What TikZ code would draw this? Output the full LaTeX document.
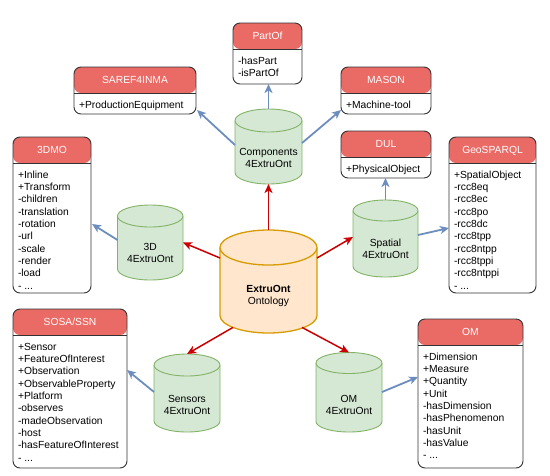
\documentclass[tikz,border=0pt]{standalone}
\usepackage{fontspec}
\setmainfont{Liberation Sans}
\usetikzlibrary{arrows.meta}
\definecolor{hdrred}{HTML}{EA6B66}
\definecolor{cylfill}{HTML}{D5E8D4}
\definecolor{cylline}{HTML}{82B366}
\definecolor{extfill}{HTML}{FFE6CC}
\definecolor{extline}{HTML}{D79B00}
\definecolor{arrred}{HTML}{CC0000}
\definecolor{arrblue}{HTML}{6C8EBF}
\definecolor{boxline}{HTML}{333333}

% #1 node name, #2 half width, #3 y radius of the caps, #4 style
\newcommand\drawcyl[4]{%
  \filldraw[#4] ([yshift=-#3]#1.north west) -- ([yshift=#3]#1.south west)
    arc[start angle=180,end angle=360,x radius=#2,y radius=#3]
    -- ([yshift=-#3]#1.north east)
    arc[start angle=0,end angle=180,x radius=#2,y radius=#3] -- cycle;
  \draw[#4] ([yshift=-#3]#1.north east)
    arc[start angle=0,end angle=-180,x radius=#2,y radius=#3];
}

\begin{document}
\begin{tikzpicture}[x=1pt,y=-1pt,
  every node/.style={font=\fontsize{10.3}{12.3}\selectfont, inner sep=0pt, outer sep=0pt},
  ontbox/.style={rectangle, rounded corners=7pt, draw=boxline, line width=0.9pt, fill=white,
    path picture={
      \fill[hdrred] (path picture bounding box.north west) rectangle ([yshift=-26pt]path picture bounding box.north east);
      \draw[boxline, line width=0.9pt] ([yshift=-26pt]path picture bounding box.north west) -- ([yshift=-26pt]path picture bounding box.north east);
    }},
  boxtitle/.style={text=white, text height=7.5pt, text depth=0pt},
  boxbody/.style={align=left, anchor=north west},
  cylnode/.style={rectangle, draw=none},
  greencyl/.style={fill=cylfill, draw=cylline, line width=0.9pt},
  orangecyl/.style={fill=extfill, draw=extline, line width=1.3pt},
  cyllabel/.style={align=center},
  redarr/.style={draw=arrred, line width=1.5pt, -{Stealth[length=9pt,width=8pt,inset=2.5pt]}},
  bluearr/.style={draw=arrblue, line width=1.8pt, -{Stealth[length=9pt,width=8pt,inset=2.5pt]}}
]
\useasboundingbox (0,0) rectangle (550,475);

% ---------- ontology boxes ----------
\node[ontbox, minimum width=69pt, minimum height=61pt] (partof) at (267.5,53.5) {};
\node[boxtitle] (partof-t) at (267.5,36) {PartOf};
\node[boxbody] (partof-b) at (238,55.7) {\strut-hasPart\\-isPartOf};

\node[ontbox, minimum width=122pt, minimum height=47pt] (saref) at (135,90.5) {};
\node[boxtitle] (saref-t) at (135,80) {SAREF4INMA};
\node[boxbody] (saref-b) at (79,99.7) {\strut+ProductionEquipment};

\node[ontbox, minimum width=90pt, minimum height=47pt] (mason) at (386,90.5) {};
\node[boxtitle] (mason-t) at (386,80) {MASON};
\node[boxbody] (mason-b) at (346,99.7) {\strut+Machine-tool};

\node[ontbox, minimum width=90pt, minimum height=47pt] (dul) at (386,154.5) {};
\node[boxtitle] (dul-t) at (386,144) {DUL};
\node[boxbody] (dul-b) at (346,163.7) {\strut+PhysicalObject};

\node[ontbox, minimum width=78pt, minimum height=156pt] (dmo) at (52,215) {};
\node[boxtitle] (dmo-t) at (52,150) {3DMO};
\node[boxbody] (dmo-b) at (18,169.7) {\strut+Inline\\+Transform\\-children\\-translation\\-rotation\\-url\\-scale\\-render\\-load\\- ...};

\node[ontbox, minimum width=87pt, minimum height=156pt] (geo) at (492.5,215) {};
\node[boxtitle] (geo-t) at (492.5,150) {GeoSPARQL};
\node[boxbody] (geo-b) at (454,169.7) {\strut+SpatialObject\\-rcc8eq\\-rcc8ec\\-rcc8po\\-rcc8dc\\-rcc8tpp\\-rcc8ntpp\\-rcc8tppi\\-rcc8ntppi\\- ...};

\node[ontbox, minimum width=114pt, minimum height=159pt] (sosa) at (70,388.5) {};
\node[boxtitle] (sosa-t) at (70,322) {SOSA/SSN};
\node[boxbody] (sosa-b) at (18,341.7) {\strut+Sensor\\+FeatureOfInterest\\+Observation\\+ObservableProperty\\+Platform\\-observes\\-madeObservation\\-host\\-hasFeatureOfInterest\\- ...};

\node[ontbox, minimum width=105pt, minimum height=149pt] (om) at (470.5,393.5) {};
\node[boxtitle] (om-t) at (470.5,332) {OM};
\node[boxbody] (om-b) at (423,351.7) {\strut+Dimension\\+Measure\\+Quantity\\+Unit\\-hasDimension\\-hasPhenomenon\\-hasUnit\\-hasValue\\- ...};

% ---------- cylinders ----------
\node[cylnode, minimum width=67pt, minimum height=75pt] (comp) at (268.5,146.5) {};
\drawcyl{comp}{33.5pt}{11.5pt}{greencyl}
\node[cyllabel] (comp-l) at (268.5,158) {Components\\4ExtruOnt};

\node[cylnode, minimum width=65.5pt, minimum height=75pt] (d3) at (150.25,242.5) {};
\drawcyl{d3}{32.75pt}{11pt}{greencyl}
\node[cyllabel] (d3-l) at (150.25,253.2) {3D\\4ExtruOnt};

\node[cylnode, minimum width=65pt, minimum height=77pt] (spat) at (385.5,238.5) {};
\drawcyl{spat}{32.5pt}{10.5pt}{greencyl}
\node[cyllabel] (spat-l) at (385.5,248.6) {Spatial\\4ExtruOnt};

\node[cylnode, minimum width=66pt, minimum height=78pt] (sens) at (187,393) {};
\drawcyl{sens}{33pt}{11pt}{greencyl}
\node[cyllabel] (sens-l) at (187,405.2) {Sensors\\4ExtruOnt};

\node[cylnode, minimum width=66pt, minimum height=79.5pt] (omc) at (349,392.25) {};
\drawcyl{omc}{33pt}{10.5pt}{greencyl}
\node[cyllabel] (omc-l) at (349,405.2) {OM\\4ExtruOnt};

\node[cylnode, minimum width=97pt, minimum height=103pt] (ext) at (268.5,281.5) {};
\drawcyl{ext}{48.5pt}{17.5pt}{orangecyl}
\node[cyllabel] (ext-l) at (268.5,296) {\textbf{ExtruOnt}\\Ontology};

% ---------- red connectors ----------
\draw[redarr] (ext.north) -- (comp.south);
\draw[redarr] ([yshift=23.5pt]ext.west) -- (d3.east);
\draw[redarr] ([yshift=23.5pt]ext.east) -- ([yshift=1.5pt]spat.west);
\draw[redarr] ([xshift=-35.5pt,yshift=5.6pt]ext.south) -- (sens.north);
\draw[redarr] ([xshift=33.5pt,yshift=5.6pt]ext.south) -- (omc.north);

% ---------- blue connectors ----------
\draw[bluearr] (comp.north) -- (comp.north |- partof.south);
\draw[bluearr] ([yshift=1.5pt]comp.west) -- ([xshift=1pt,yshift=4pt]saref.south east);
\draw[bluearr] ([yshift=3.5pt]comp.east) -- ([yshift=4pt]mason.south west);
\draw[bluearr] ([yshift=2.5pt]d3.west) -- ([xshift=1pt,yshift=-9pt]dmo.east);
\draw[bluearr] (spat.north) -- (spat.north |- dul.south);
\draw[bluearr] ([yshift=3.5pt]spat.east) -- ([yshift=-13pt]geo.west);
\draw[bluearr] ([yshift=1pt]sens.west) -- ([yshift=18.5pt]sosa.east);
\draw[bluearr] ([yshift=0.25pt]omc.east) -- ([yshift=16.5pt]om.west);
\end{tikzpicture}
\end{document}
